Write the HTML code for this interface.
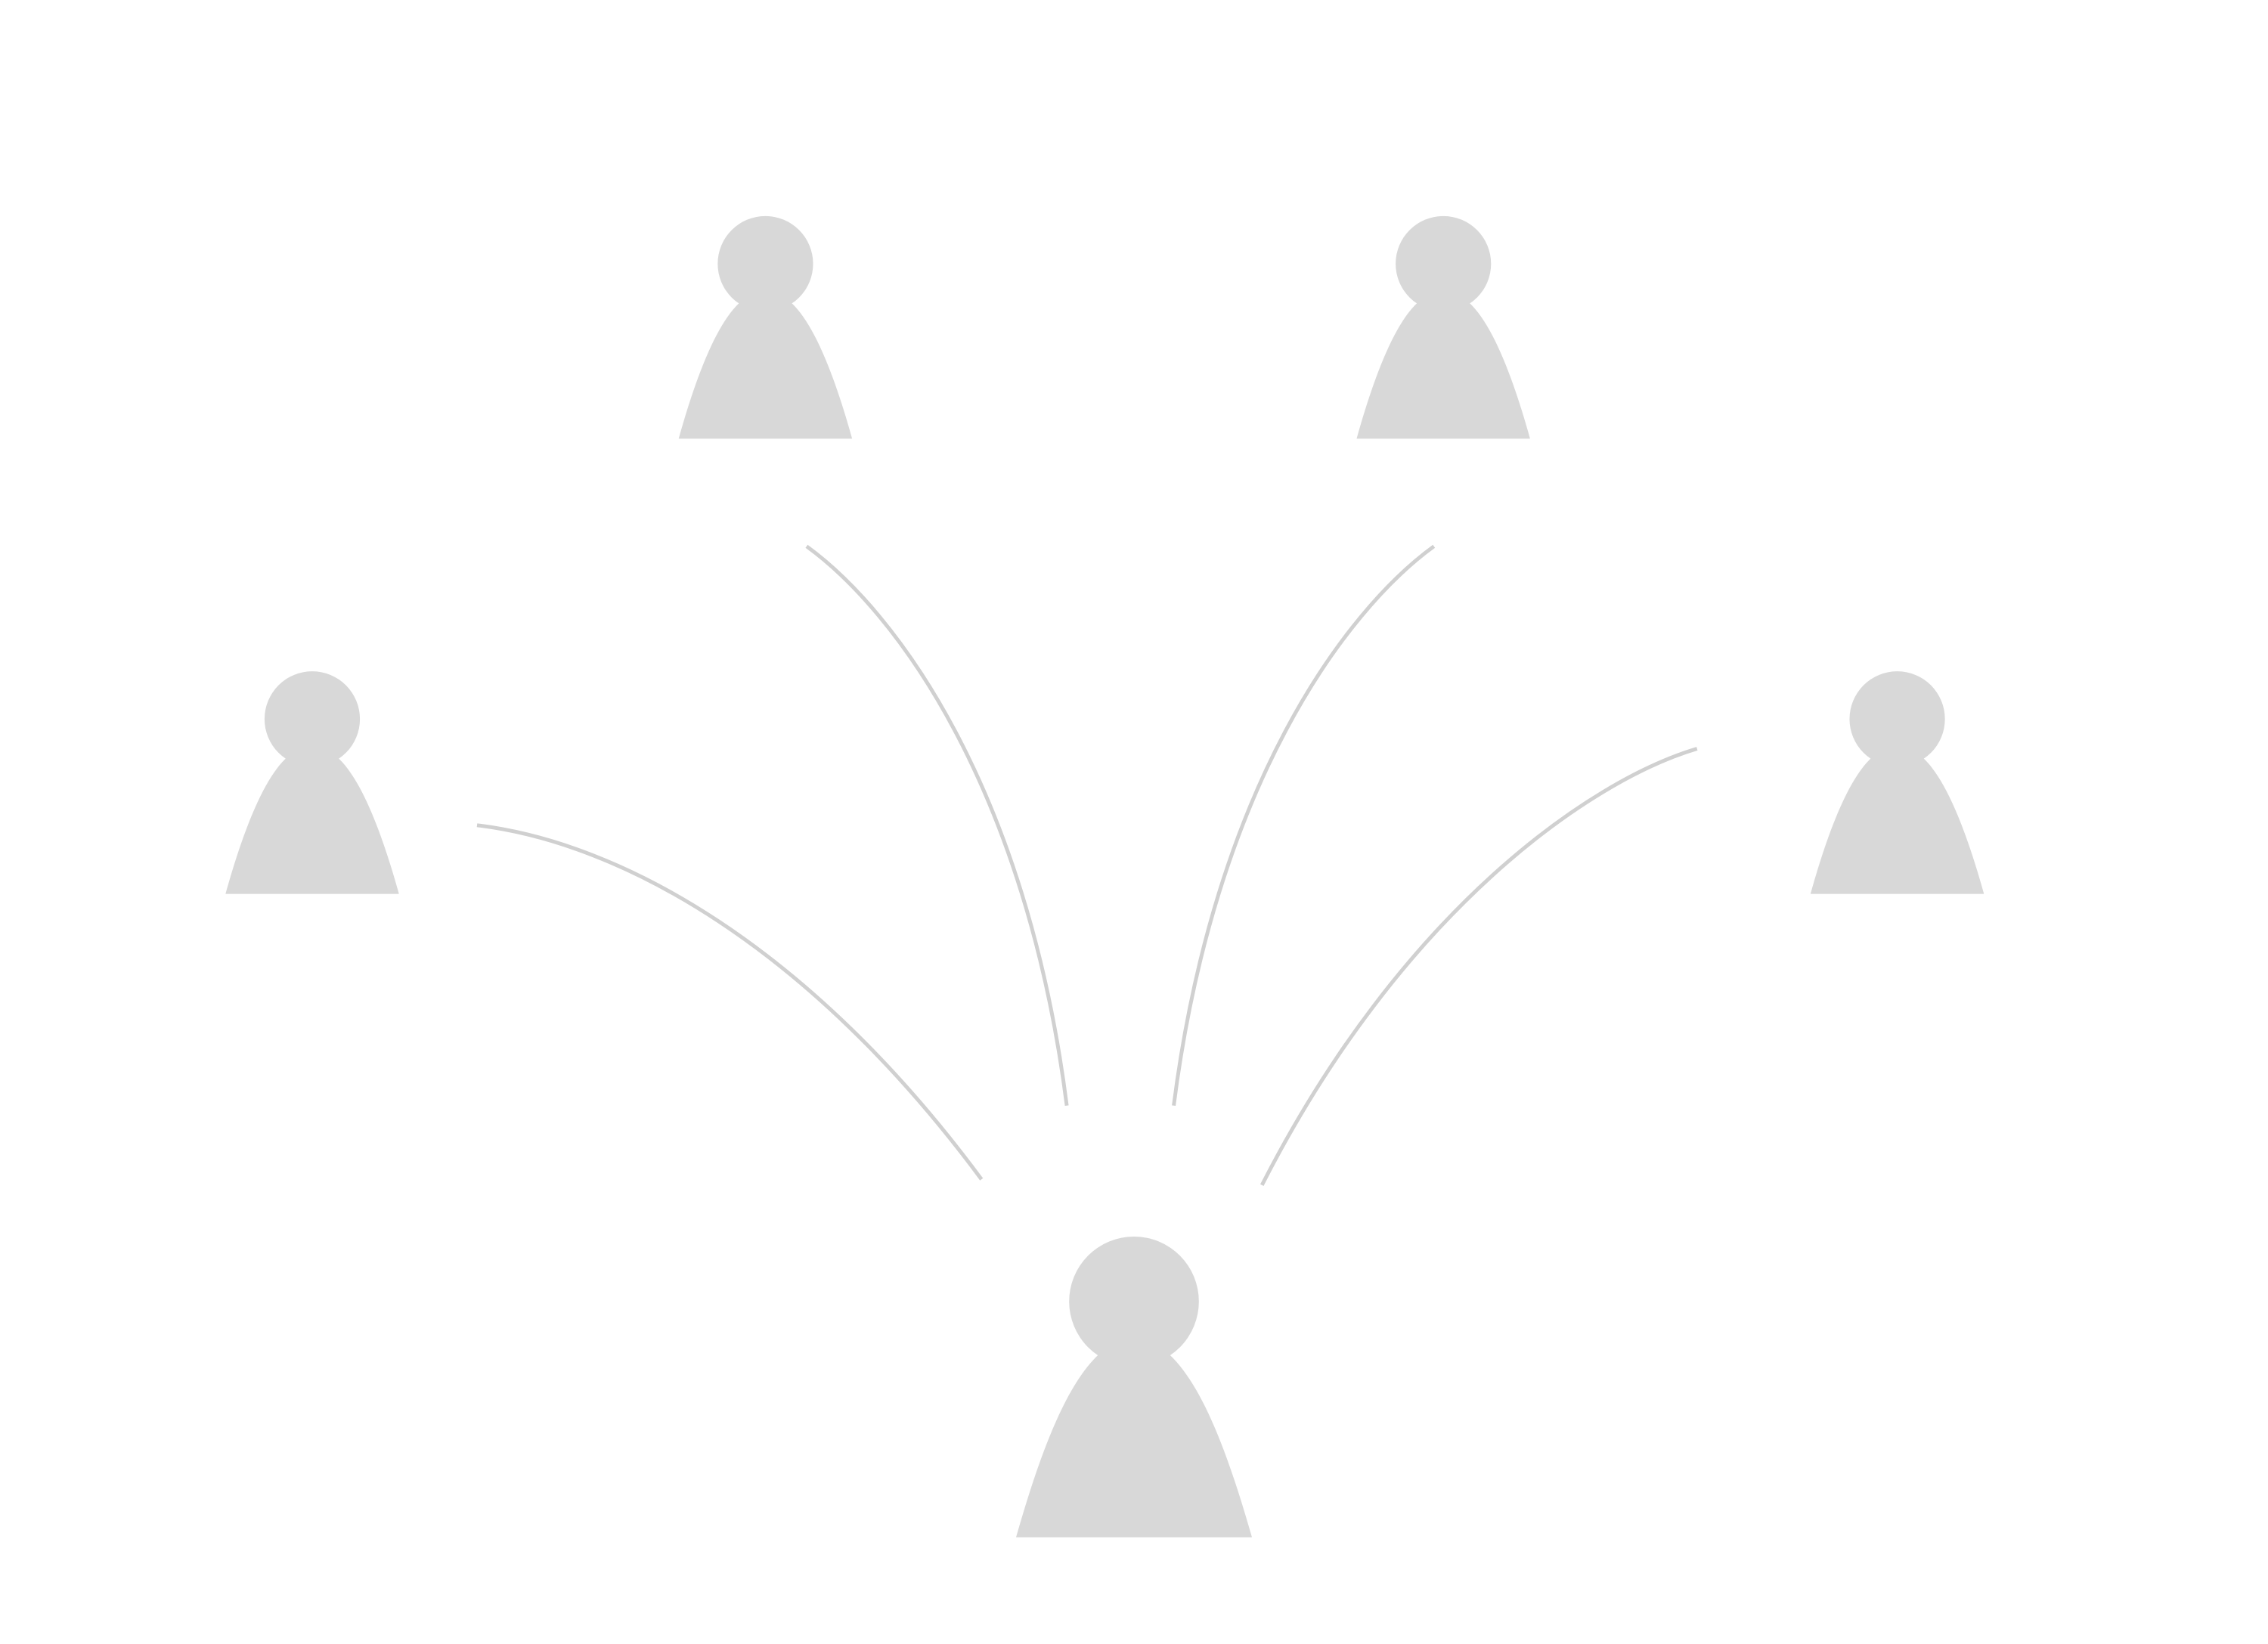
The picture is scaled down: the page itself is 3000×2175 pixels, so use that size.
<!DOCTYPE html>
<html><head><meta charset="utf-8"><style>
html,body{margin:0;padding:0;background:#fff;}
svg{display:block;}
</style></head><body>
<svg width="3000" height="2175" viewBox="0 0 1569 1137.5" xmlns="http://www.w3.org/2000/svg">
<defs>
<g id="p">
<circle cx="0" cy="0" r="33" fill="#d8d8d8"/>
<path d="M-60,121 C-48,78 -34,42 -18,27 Q0,18 18,27 C34,42 48,78 60,121 Z" fill="#d8d8d8"/>
</g>
</defs>
<use href="#p" x="529.5" y="182.5"/>
<use href="#p" x="998.5" y="182.5"/>
<use href="#p" x="216" y="497.5"/>
<use href="#p" x="1312.5" y="497.5"/>
<g transform="translate(784.5,900.5) scale(1.36)">
<circle cx="0" cy="0" r="33" fill="#d8d8d8"/>
<path d="M-60,120 C-48,78 -35,43 -18,27 Q0,18 18,27 C35,43 48,78 60,120 Z" fill="#d8d8d8"/>
</g>
<g fill="none" stroke="#d0d0d0" stroke-width="2.6">
<path d="M330,571 C430,583 560,655 679,816"/>
<path d="M558,378 C620,423 710,545 738,765"/>
<path d="M992,378 C930,423 840,545 812,765"/>
<path d="M1174,518 C1100,540 970,630 873,820"/>
</g>
</svg>
</body></html>
